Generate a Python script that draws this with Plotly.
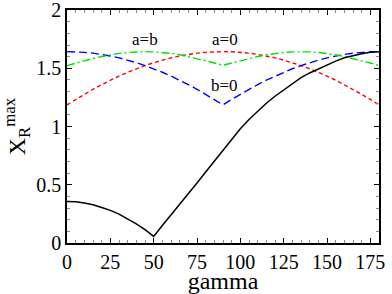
import plotly.graph_objects as go

gamma = [0, 5, 10, 15, 20, 25, 30, 35, 40, 45, 50, 55, 60, 65, 70, 75, 80, 85, 90,
         95, 100, 105, 110, 115, 120, 125, 130, 135, 140, 145, 150, 155, 160, 165, 170, 175, 180]

x_b0 = [1.643, 1.642, 1.637, 1.630, 1.619, 1.606, 1.590, 1.570, 1.548, 1.523, 1.496, 1.466,
        1.433, 1.398, 1.360, 1.320, 1.277, 1.233, 1.186,
        1.233, 1.277, 1.320, 1.360, 1.398, 1.433, 1.466, 1.496, 1.523, 1.548, 1.570, 1.590,
        1.606, 1.619, 1.630, 1.637, 1.642, 1.643]

x_a0 = [1.186, 1.233, 1.277, 1.320, 1.360, 1.398, 1.433, 1.466, 1.496, 1.523, 1.548, 1.570,
        1.590, 1.606, 1.619, 1.630, 1.637, 1.642, 1.643,
        1.642, 1.637, 1.630, 1.619, 1.606, 1.590, 1.570, 1.548, 1.523, 1.496, 1.466, 1.433,
        1.398, 1.360, 1.320, 1.277, 1.233, 1.186]

x_ab = [1.523, 1.545, 1.565, 1.584, 1.601, 1.616, 1.628, 1.636, 1.641, 1.643, 1.641, 1.636,
        1.628, 1.616, 1.601, 1.584, 1.565, 1.545, 1.526,
        1.545, 1.565, 1.584, 1.601, 1.616, 1.628, 1.636, 1.641, 1.643, 1.641, 1.636, 1.628,
        1.616, 1.601, 1.584, 1.565, 1.545, 1.523]

x_max = [0.357, 0.354, 0.343, 0.328, 0.305, 0.280, 0.248, 0.210, 0.165, 0.115, 0.057, 0.150,
         0.240, 0.330, 0.420, 0.515, 0.610, 0.705, 0.800,
         0.890, 0.980, 1.060, 1.130, 1.200, 1.260, 1.315, 1.370, 1.420, 1.460, 1.495, 1.530,
         1.562, 1.590, 1.610, 1.625, 1.637, 1.643]

labels = ["a=b", "a=0", "b=0"]
label_x = [45, 91, 91]
label_y = [1.745, 1.745, 1.35]

x_ticks = [0, 25, 50, 75, 100, 125, 150, 175]
y_ticks = [0, 0.5, 1, 1.5, 2]

FONT = "Liberation Serif"

fig = go.Figure()
fig.add_trace(go.Scatter(x=gamma, y=x_a0, mode="lines",
                         line=dict(color="#ff0000", width=1.4, dash="4px,3px")))
fig.add_trace(go.Scatter(x=gamma, y=x_b0, mode="lines",
                         line=dict(color="#0000ff", width=1.4, dash="8px,4px")))
fig.add_trace(go.Scatter(x=gamma, y=x_ab, mode="lines",
                         line=dict(color="#00e000", width=1.4, dash="8px,3px,2px,3px")))
fig.add_trace(go.Scatter(x=gamma, y=x_max, mode="lines",
                         line=dict(color="#000000", width=1.5)))

for t, lx, ly in zip(labels, label_x, label_y):
    fig.add_annotation(x=lx, y=ly, text=t, showarrow=False,
                       font=dict(family=FONT, size=17, color="black"),
                       xanchor="center", yanchor="middle")

axis_common = dict(
    showline=True, linecolor="black", linewidth=1.5, mirror="ticks",
    ticks="inside", ticklen=5, tickwidth=1, tickcolor="black",
    showgrid=False, zeroline=False,
    tickfont=dict(family=FONT, size=20, color="black"),
)

fig.update_xaxes(range=[0, 180], tickvals=x_ticks,
                 minor=dict(dtick=5, tick0=0, ticks="inside", ticklen=3, tickcolor="#888888"),
                 title=dict(text="gamma", font=dict(family=FONT, size=24, color="black"), standoff=3),
                 **axis_common)
fig.update_yaxes(range=[0, 2.0005], tickvals=y_ticks, ticklabeloverflow="allow",
                 minor=dict(dtick=0.1, tick0=0, ticks="inside", ticklen=3, tickcolor="#888888"),
                 title=dict(text="X<sub>R</sub><sup>max</sup>",
                            font=dict(family=FONT, size=24, color="black"), standoff=9),
                 **axis_common)

fig.update_layout(width=392, height=294,
                  font=dict(family=FONT, color="black"),
                  margin=dict(l=67, r=13, t=10, b=51, autoexpand=False),
                  paper_bgcolor="white", plot_bgcolor="white",
                  showlegend=False)

fig.write_html("out.html", config={"displayModeBar": False},
               post_script="document.body.style.margin='0';document.body.style.overflow='hidden';")
